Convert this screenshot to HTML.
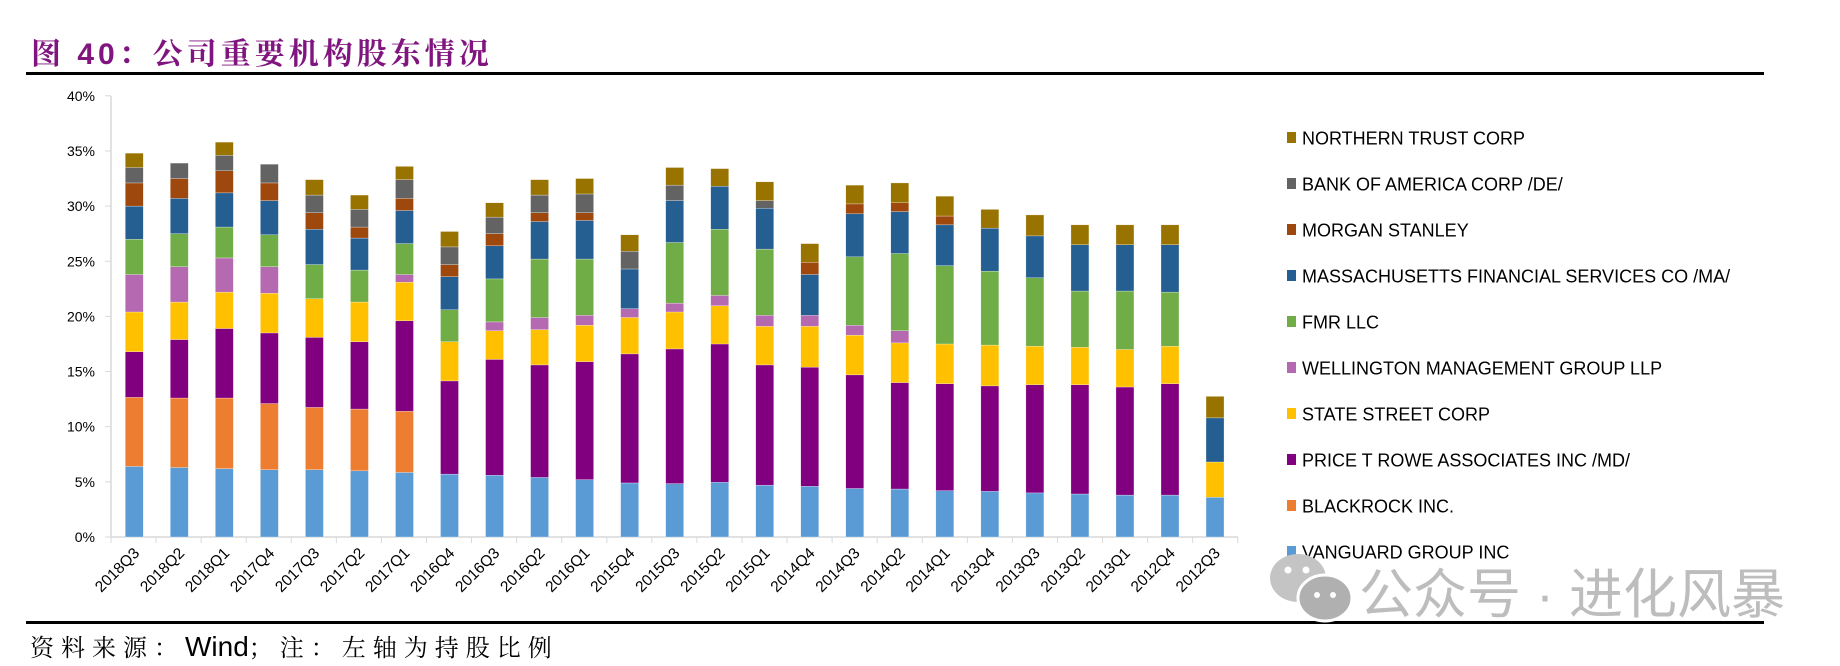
<!DOCTYPE html>
<html><head><meta charset="utf-8">
<style>
html,body{margin:0;padding:0;background:#fff;}
svg{display:block;}
</style></head>
<body>
<svg width="1840" height="666" viewBox="0 0 1840 666" xmlns="http://www.w3.org/2000/svg">
<text x="31" y="64" font-family="'Liberation Sans','Noto Serif CJK SC',serif" font-size="30" font-weight="bold" fill="#80157f" letter-spacing="4">图 40：公司重要机构股东情况</text>
<rect x="26" y="72" width="1738" height="3" fill="#000"/>
<rect x="26" y="621" width="1738" height="3" fill="#000"/>
<text x="30" y="656" font-family="'Noto Serif CJK SC',serif" font-size="24" fill="#000" letter-spacing="7">资料来源：<tspan font-family="'Liberation Sans',sans-serif" font-size="28" letter-spacing="0">Wind</tspan>；注：左轴为持股比例</text>
<g id="chart"></g>
<g font-family="'Liberation Sans','Noto Sans CJK SC',sans-serif">
<ellipse cx="1298" cy="578" rx="28" ry="24" fill="#c4c4c4"/>
<ellipse cx="1325" cy="598" rx="27" ry="23" fill="#b0b0b0" stroke="#fff" stroke-width="3"/>
<circle cx="1288" cy="570" r="3.5" fill="#fff"/><circle cx="1306" cy="570" r="3.5" fill="#fff"/>
<circle cx="1317" cy="595" r="3" fill="#fff"/><circle cx="1333" cy="595" r="3" fill="#fff"/>
<text x="1359" y="613" font-size="54" fill="#bdbdbd">公众号 · 进化风暴</text>
</g>
</svg>
<script>
(function(){
var ns="http://www.w3.org/2000/svg";
var g=document.getElementById("chart");
function el(t,a,txt){var e=document.createElementNS(ns,t);for(var k in a)e.setAttribute(k,a[k]);if(txt!==undefined)e.textContent=txt;g.appendChild(e);return e;}
var colors=["#5b9bd5","#ed7d31","#800080","#ffc000","#b469b0","#70ad47","#255e91","#9e480e","#636363","#997300"];
var names=["VANGUARD GROUP INC","BLACKROCK INC.","PRICE T ROWE ASSOCIATES INC /MD/","STATE STREET CORP","WELLINGTON MANAGEMENT GROUP LLP","FMR LLC","MASSACHUSETTS FINANCIAL SERVICES CO /MA/","MORGAN STANLEY","BANK OF AMERICA CORP /DE/","NORTHERN TRUST CORP"];
var labels=["2018Q3","2018Q2","2018Q1","2017Q4","2017Q3","2017Q2","2017Q1","2016Q4","2016Q3","2016Q2","2016Q1","2015Q4","2015Q3","2015Q2","2015Q1","2014Q4","2014Q3","2014Q2","2014Q1","2013Q4","2013Q3","2013Q2","2013Q1","2012Q4","2012Q3"];
var d=[
[6.4,12.66,16.8,20.4,23.8,27.0,30.0,32.1,33.5,34.8],
[6.3,12.6,17.9,21.3,24.5,27.5,30.7,32.5,33.9,33.9],
[6.2,12.6,18.9,22.2,25.3,28.1,31.2,33.2,34.6,35.8],
[6.1,12.1,18.5,22.1,24.5,27.4,30.5,32.1,33.8,33.8],
[6.1,11.75,18.1,21.6,21.6,24.7,27.9,29.4,31.0,32.4],
[6.0,11.6,17.7,21.3,21.3,24.2,27.1,28.1,29.7,31.0],
[5.85,11.4,19.6,23.1,23.8,26.6,29.6,30.7,32.4,33.6],
[5.7,5.7,14.15,17.7,17.7,20.6,23.6,24.7,26.3,27.7],
[5.6,5.6,16.1,18.7,19.5,23.4,26.4,27.5,29.0,30.3],
[5.4,5.4,15.6,18.8,19.9,25.2,28.6,29.4,31.0,32.4],
[5.2,5.2,15.9,19.2,20.1,25.2,28.7,29.4,31.1,32.5],
[4.9,4.9,16.6,19.9,20.7,20.7,24.3,24.3,25.9,27.4],
[4.84,4.84,17.05,20.4,21.2,26.7,30.5,30.5,31.9,33.5],
[4.96,4.96,17.5,20.97,21.9,27.9,31.8,31.8,31.8,33.4],
[4.7,4.7,15.6,19.1,20.1,26.1,29.8,29.8,30.5,32.2],
[4.6,4.6,15.4,19.1,20.1,20.1,23.8,24.9,24.9,26.6],
[4.4,4.4,14.7,18.3,19.2,25.4,29.3,30.2,30.2,31.9],
[4.35,4.35,14.0,17.6,18.7,25.7,29.5,30.3,30.3,32.1],
[4.2,4.2,13.9,17.5,17.5,24.6,28.3,29.1,29.1,30.9],
[4.14,4.14,13.7,17.4,17.4,24.1,28.0,28.0,28.0,29.7],
[4.0,4.0,13.8,17.3,17.3,23.5,27.3,27.3,27.3,29.2],
[3.9,3.9,13.8,17.2,17.2,22.3,26.5,26.5,26.5,28.3],
[3.8,3.8,13.6,17.0,17.0,22.3,26.5,26.5,26.5,28.3],
[3.8,3.8,13.9,17.3,17.3,22.2,26.5,26.5,26.5,28.3],
[3.6,3.6,3.6,6.8,6.8,6.8,10.8,10.8,10.8,12.75]];
function Y(p){return 537-p*11.03;}
el("line",{x1:111,y1:96,x2:111,y2:537,stroke:"#d9d9d9","stroke-width":1.5});
el("line",{x1:111,y1:537,x2:1238,y2:537,stroke:"#d9d9d9","stroke-width":1.5});
for(var k=0;k<=8;k++){var y=Y(k*5);
 el("line",{x1:105,y1:y,x2:111,y2:y,stroke:"#d9d9d9","stroke-width":1});
 el("text",{x:95,y:y+5,"text-anchor":"end","font-family":"'Liberation Sans',sans-serif","font-size":14,fill:"#000"},(k*5)+"%");}
for(var i=0;i<=25;i++){var x=111+i*45.07;el("line",{x1:x,y1:537,x2:x,y2:543,stroke:"#d9d9d9","stroke-width":1});}
for(var i=0;i<25;i++){
 var cx=134.3+i*45.03,prev=0;
 for(var s=0;s<10;s++){var t=d[i][s];if(t-prev>0.01){
  el("rect",{x:cx-9,y:Y(t),width:18,height:(t-prev)*11.03,fill:colors[s],stroke:"#ffffff","stroke-width":0.4,"stroke-opacity":0.7});}
  prev=Math.max(prev,t);}
 var lx=cx+6,ly=554;
 el("text",{x:lx,y:ly,"text-anchor":"end",transform:"rotate(-45 "+lx+" "+ly+")","font-family":"'Liberation Sans',sans-serif","font-size":15.5,fill:"#000"},labels[i]);
}
for(var j=0;j<10;j++){var s=9-j,yc=138+j*46;
 el("rect",{x:1287,y:yc-6,width:9,height:11,fill:colors[s]});
 el("text",{x:1302,y:yc+6.5,"font-family":"'Liberation Sans',sans-serif","font-size":18,fill:"#000"},names[s]);}
})();
</script>
</body></html>
